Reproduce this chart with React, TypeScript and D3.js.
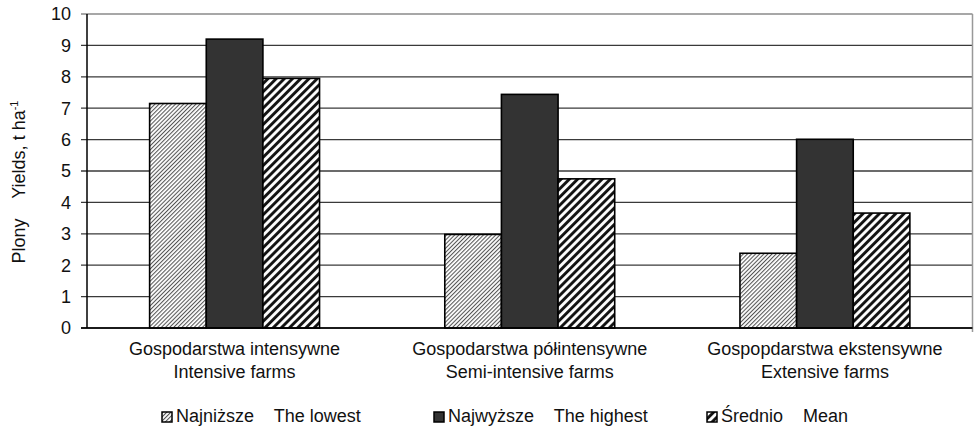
import React from "react";
import * as d3 from "d3";

const categoriesPl = ["Gospodarstwa intensywne", "Gospodarstwa półintensywne", "Gospopdarstwa ekstensywne"];
const categoriesEn = ["Intensive farms", "Semi-intensive farms", "Extensive farms"];
const seriesNames = ["Najniższe    The lowest", "Najwyższe    The highest", "Średnio    Mean"];
const lowest = [7.15, 2.98, 2.38];
const highest = [9.2, 7.44, 6.01];
const mean = [7.95, 4.75, 3.66];
const yTicks = [0, 1, 2, 3, 4, 5, 6, 7, 8, 9, 10];

const W = 974;
const H = 429;
const margin = { left: 87, right: 1.5, top: 14, bottom: 101 };
const FONT = "Liberation Sans, Arial, sans-serif";
const FS = 18;

export default function App() {
  const x0 = d3
    .scaleBand<number>()
    .domain(d3.range(categoriesPl.length))
    .range([margin.left, W - margin.right]);
  const inner = 170 / 295.3;
  const y = d3.scaleLinear().domain([0, 10]).range([H - margin.bottom, margin.top]);
  const series = [lowest, highest, mean];
  const fills = ["url(#hatchFine)", "#333333", "url(#hatchWide)"];
  const barW = (x0.bandwidth() * inner) / 3;

  const legendX = [162, 434, 707];

  return (
    <svg width={W} height={H} style={{ position: "absolute", left: 0, top: 0, background: "#fff" }}>
      <defs>
        <pattern id="hatchFine" width={2.9} height={2.9} patternUnits="userSpaceOnUse" patternTransform="rotate(45)">
          <rect width={2.9} height={2.9} fill="#fff" />
          <line x1={0.5} y1={0} x2={0.5} y2={2.9} stroke="#555" strokeWidth={1.1} />
        </pattern>
        <pattern id="hatchWide" width={5.8} height={5.8} patternUnits="userSpaceOnUse" patternTransform="rotate(45)">
          <rect width={5.8} height={5.8} fill="#fff" />
          <line x1={1.5} y1={0} x2={1.5} y2={5.8} stroke="#111" strokeWidth={2.9} />
        </pattern>
      </defs>

      {/* gridlines */}
      {yTicks.map((t) => (
        <line
          key={"g" + t}
          x1={margin.left - 6}
          x2={W - margin.right}
          y1={y(t)}
          y2={y(t)}
          stroke={t === 10 ? "#8a8a8a" : "#3a3a3a"}
          strokeWidth={t === 10 ? 1.5 : 1.3}
        />
      ))}
      <line x1={W - margin.right} x2={W - margin.right} y1={y(10)} y2={y(0) + 4} stroke="#999" strokeWidth={1.5} />

      {/* bars */}
      {series.map((vals, si) =>
        vals.map((v, ci) => {
          const cx = (x0(ci) as number) + x0.bandwidth() / 2;
          const left = cx - (barW * 3) / 2 + si * barW;
          return (
            <rect
              key={si + "-" + ci}
              x={left}
              y={y(v)}
              width={barW}
              height={y(0) - y(v)}
              fill={fills[si]}
              stroke="#000"
              strokeWidth={1.6}
            />
          );
        })
      )}

      {/* axes */}
      <line x1={margin.left} x2={margin.left} y1={y(10)} y2={y(0)} stroke="#000" strokeWidth={1.5} />
      <line x1={margin.left - 6} x2={W - margin.right} y1={y(0)} y2={y(0)} stroke="#000" strokeWidth={1.5} />
      {yTicks.map((t) => (
        <text
          key={"t" + t}
          x={71}
          y={y(t)}
          dy="0.36em"
          textAnchor="end"
          fontFamily={FONT}
          fontSize={FS}
          fill="#111"
        >
          {t}
        </text>
      ))}

      {/* category labels */}
      {categoriesPl.map((c, i) => {
        const cx = (x0(i) as number) + x0.bandwidth() / 2;
        return (
          <g key={"c" + i} fontFamily={FONT} fontSize={FS} fill="#111" textAnchor="middle">
            <text x={cx} y={355}>{c}</text>
            <text x={cx} y={378}>{categoriesEn[i]}</text>
          </g>
        );
      })}

      {/* y axis title */}
      <text
        transform={`translate(25, 182) rotate(-90)`}
        textAnchor="middle"
        fontFamily={FONT}
        fontSize={FS}
        fill="#111"
        style={{ whiteSpace: "pre" }}
      >
        {"Plony    Yields, t ha"}
        <tspan dy={-7} fontSize={11}>-1</tspan>
      </text>

      {/* legend */}
      {seriesNames.map((n, i) => (
        <g key={"l" + i}>
          <rect x={legendX[i]} y={412} width={10} height={10} fill={fills[i]} stroke="#000" strokeWidth={1.5} />
          <text
            x={legendX[i] + 14}
            y={422}
            fontFamily={FONT}
            fontSize={FS}
            fill="#111"
            style={{ whiteSpace: "pre" }}
          >
            {n}
          </text>
        </g>
      ))}
    </svg>
  );
}
